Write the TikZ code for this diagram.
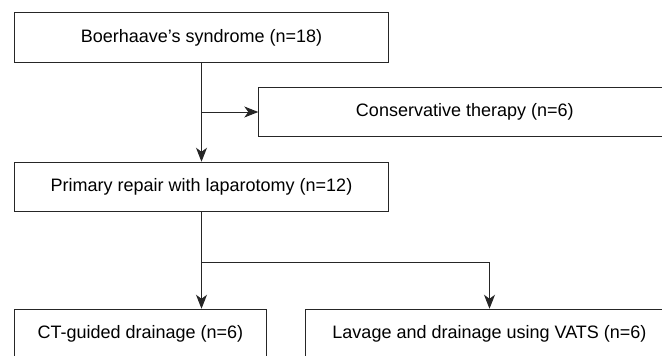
\documentclass[tikz,border=0pt]{standalone}
\usepackage{fontspec}
\setmainfont{Liberation Sans}
\usepackage{tikz}
\usetikzlibrary{calc,arrows.meta}

\begin{document}
\begin{tikzpicture}[x=1pt,y=-1pt,
    box/.style={draw=black!85, line width=1pt, minimum height=49.5pt,
        inner sep=0pt, font=\fontsize{18}{20}\selectfont},
    flow/.style={draw=black!85, line width=1pt,
        -{Stealth[length=14pt,width=11pt,inset=4pt]}}]
    \useasboundingbox (0,0) rectangle (662,356);
    \clip (0,0) rectangle (662,356);
    % boxes
    \node[box, minimum width=373.5pt] (syn) at (201.5,37.5) {Boerhaave’s syndrome (n=18)};
    \node[box, minimum width=412pt] (cons) at (464.8,112) {Conservative therapy (n=6)};
    \node[box, minimum width=373.5pt] (rep) at (201.5,187) {Primary repair with laparotomy (n=12)};
    \node[box, minimum width=251.2pt] (ct) at (140.4,334) {CT-guided drainage (n=6)};
    \node[box, minimum width=368pt] (vats) at (489.5,334) {Lavage and drainage using VATS (n=6)};
    % connectors
    \draw[flow] (syn) -- (rep);
    \coordinate (j1) at (syn.south |- cons.west);
    \draw[flow] (j1) -- (cons.west);
    \draw[draw=black!85, line width=1pt] (rep.south) -- ++(0,50) coordinate (j2);
    \draw[flow] (j2) -- (j2 |- ct.north);
    \draw[flow] (j2) -| (vats.north);
\end{tikzpicture}
\end{document}
